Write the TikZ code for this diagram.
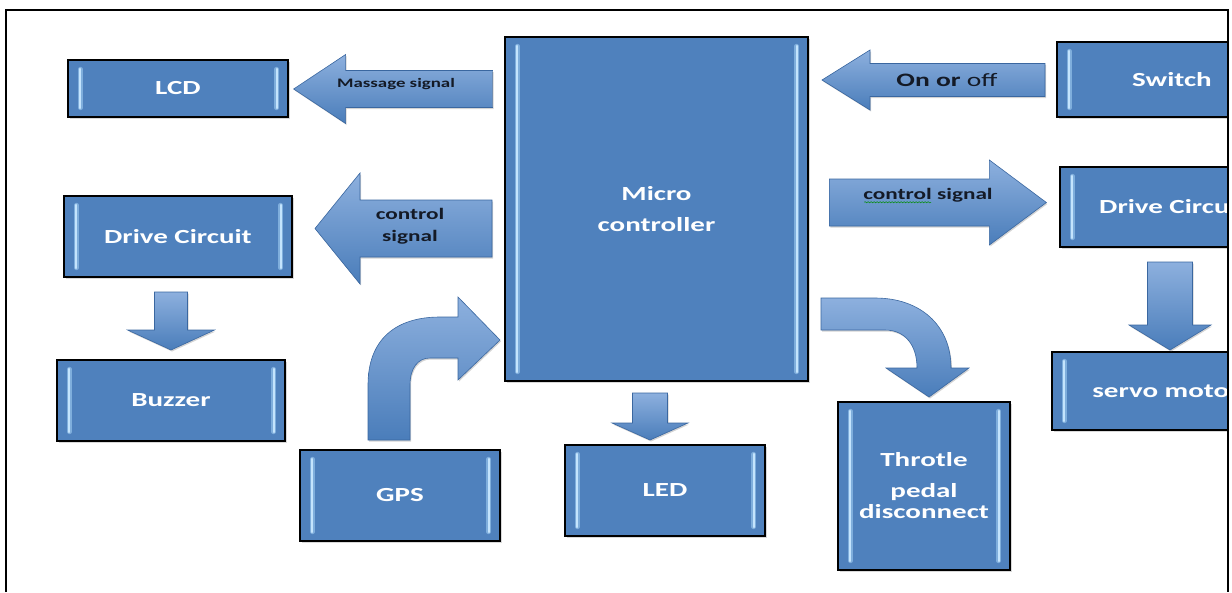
\documentclass[tikz,border=0pt]{standalone}
\usepackage{fontspec}
\setmainfont{Carlito}[FakeStretch=1.45]
\usepackage{tikz}
\usetikzlibrary{positioning, calc, shadows, decorations.pathmorphing}
\definecolor{boxFill}{HTML}{4F81BD}
\definecolor{bevelC}{HTML}{C4E4FD}
\definecolor{bevelD}{HTML}{7FAEDC}
\definecolor{arrTop}{HTML}{8DB0DE}
\definecolor{arrBot}{HTML}{4A7DBA}
\definecolor{arrLine}{HTML}{3A67A0}
\definecolor{lblDark}{HTML}{141A26}
% straight block arrow: [rotation]{tip}{length}{shaft half}{head half}{head length}
\newcommand{\blkarrow}[6][]{\draw[blockarr,shift={(#2)},#1] (0,0) -- (#6,#5) -- (#6,#4) -- (#3,#4) -- (#3,-#4) -- (#6,-#4) -- (#6,-#5) -- cycle;}

\begin{document}
\begin{tikzpicture}[x=1pt, y=-1pt,
  blk/.style={draw=black, line width=1.3pt, fill=boxFill, text=white, align=center, inner sep=0pt,
    font=\bfseries\fontsize{20}{24}\selectfont,
    drop shadow={shadow xshift=1.5pt, shadow yshift=-1.5pt, opacity=.3},
    path picture={\draw[bevelD, line width=4.2pt, line cap=round]
      ([xshift=12.5pt,yshift=-9pt]path picture bounding box.north west) -- ([xshift=12.5pt,yshift=9pt]path picture bounding box.south west)
      ([xshift=-11.5pt,yshift=-9pt]path picture bounding box.north east) -- ([xshift=-11.5pt,yshift=9pt]path picture bounding box.south east);
      \draw[bevelC, line width=2.6pt, line cap=round]
      ([xshift=12pt,yshift=-9pt]path picture bounding box.north west) -- ([xshift=12pt,yshift=9pt]path picture bounding box.south west)
      ([xshift=-11pt,yshift=-9pt]path picture bounding box.north east) -- ([xshift=-11pt,yshift=9pt]path picture bounding box.south east);}},
  blockarr/.style={draw=arrLine, line width=0.6pt, top color=arrTop, bottom color=arrBot,
    drop shadow={shadow xshift=1pt, shadow yshift=-1.5pt, opacity=.35}},
  arrlbl/.style={text=lblDark, align=center, inner sep=0pt}]
\useasboundingbox (0,0) rectangle (1232,592);
\begin{scope}
\clip (6,10) rectangle (1228,592);
% blocks
\node[blk, minimum width=220, minimum height=57] (lcd) at (178,88.5) {LCD};
\node[blk, minimum width=228, minimum height=81] (drvL) at (178,236.5) {Drive Circuit};
\node[blk, minimum width=228, minimum height=81] (buzz) at (171,400.5) {Buzzer};
\node[blk, minimum width=200, minimum height=91] (gps) at (400,495.5) {GPS};
\node[blk, minimum width=200, minimum height=91] (led) at (665,490.5) {LED};
\node[blk, minimum width=303, minimum height=344, font=\bfseries\fontsize{20}{31}\selectfont] (mcu) at (656.5,209) {Micro\\controller};
\node[blk, minimum width=172, minimum height=168] (thr) at (924,486) {Throtle\\[7pt]pedal\\[-3pt]disconnect};
\node[blk, minimum width=230, minimum height=75] (sw) at (1172,79.5) {Switch};
\node[blk, minimum width=226, minimum height=80] (drvR) at (1173,207) {Drive Circuit};
\node[blk, minimum width=228, minimum height=78] (servo) at (1166,391) {servo motor};
% arrow tips
\coordinate (msgTip) at ($(lcd.east)+(5,0.5)$);
\coordinate (ctlLTip) at (315,228.5);
\coordinate (swTip) at (822,80);
\coordinate (ctlRTip) at ($(drvR.west)+(-13,-4.5)$);
\coordinate (buzzTip) at (buzz.north |- 0,350);
\coordinate (ledTip) at (650,440);
\coordinate (servoTip) at (1170,350);
% straight arrows
\blkarrow{msgTip}{199}{18.5}{34.5}{52}
\blkarrow{ctlLTip}{177}{28.5}{55.5}{45}
\blkarrow{swTip}{223}{16.5}{30}{48}
\blkarrow[rotate=180]{ctlRTip}{217}{23.5}{42.5}{57}
\blkarrow[rotate=90]{buzzTip}{58}{16.5}{43.5}{20}
\blkarrow[rotate=90]{ledTip}{47}{17.5}{38}{17}
\blkarrow[rotate=90]{servoTip}{88}{22.5}{41}{25}
% curved arrows
\draw[blockarr] (368,440) -- (368,385) .. controls (368,340) and (395,317) .. (440,317) -- (458,317) -- (458,297) -- (500,340) -- (458,380) -- (458,358) -- (430,358) .. controls (418,358) and (410,368) .. (410,385) -- (410,440) -- cycle;
\draw[blockarr] (821,298) -- (875,298) .. controls (920,298) and (951,325) .. (951,368) -- (969,368) -- (929,397) -- (886,368) -- (917,368) .. controls (917,345) and (905,330) .. (885,330) -- (821,330) -- cycle;
% arrow labels
\node[arrlbl, font=\bfseries\fontsize{13}{15}\selectfont] (msgLbl) at (396,84) {Massage signal};
\node[arrlbl, font=\bfseries\fontsize{16}{22}\selectfont] (ctlLLbl) at (410,226) {control\\signal};
\node[arrlbl, font=\fontsize{19}{22}\selectfont] (swLbl) at (947,80) {\textbf{On or} off};
\node[arrlbl, font=\bfseries\fontsize{16}{19}\selectfont] (ctlRLbl) at (928,195) {control signal};
\draw[green!55!black, line width=0.5pt, decorate, decoration={snake, amplitude=0.6pt, segment length=3pt}]
  ($(ctlRLbl.base west)+(1,3)$) -- ($(ctlRLbl.base west)+(68,3)$);
\end{scope}
% frame
\draw[line width=1.6pt] (6,592) -- (6,10) -- (1228,10) -- (1228,592);
\end{tikzpicture}
\end{document}
